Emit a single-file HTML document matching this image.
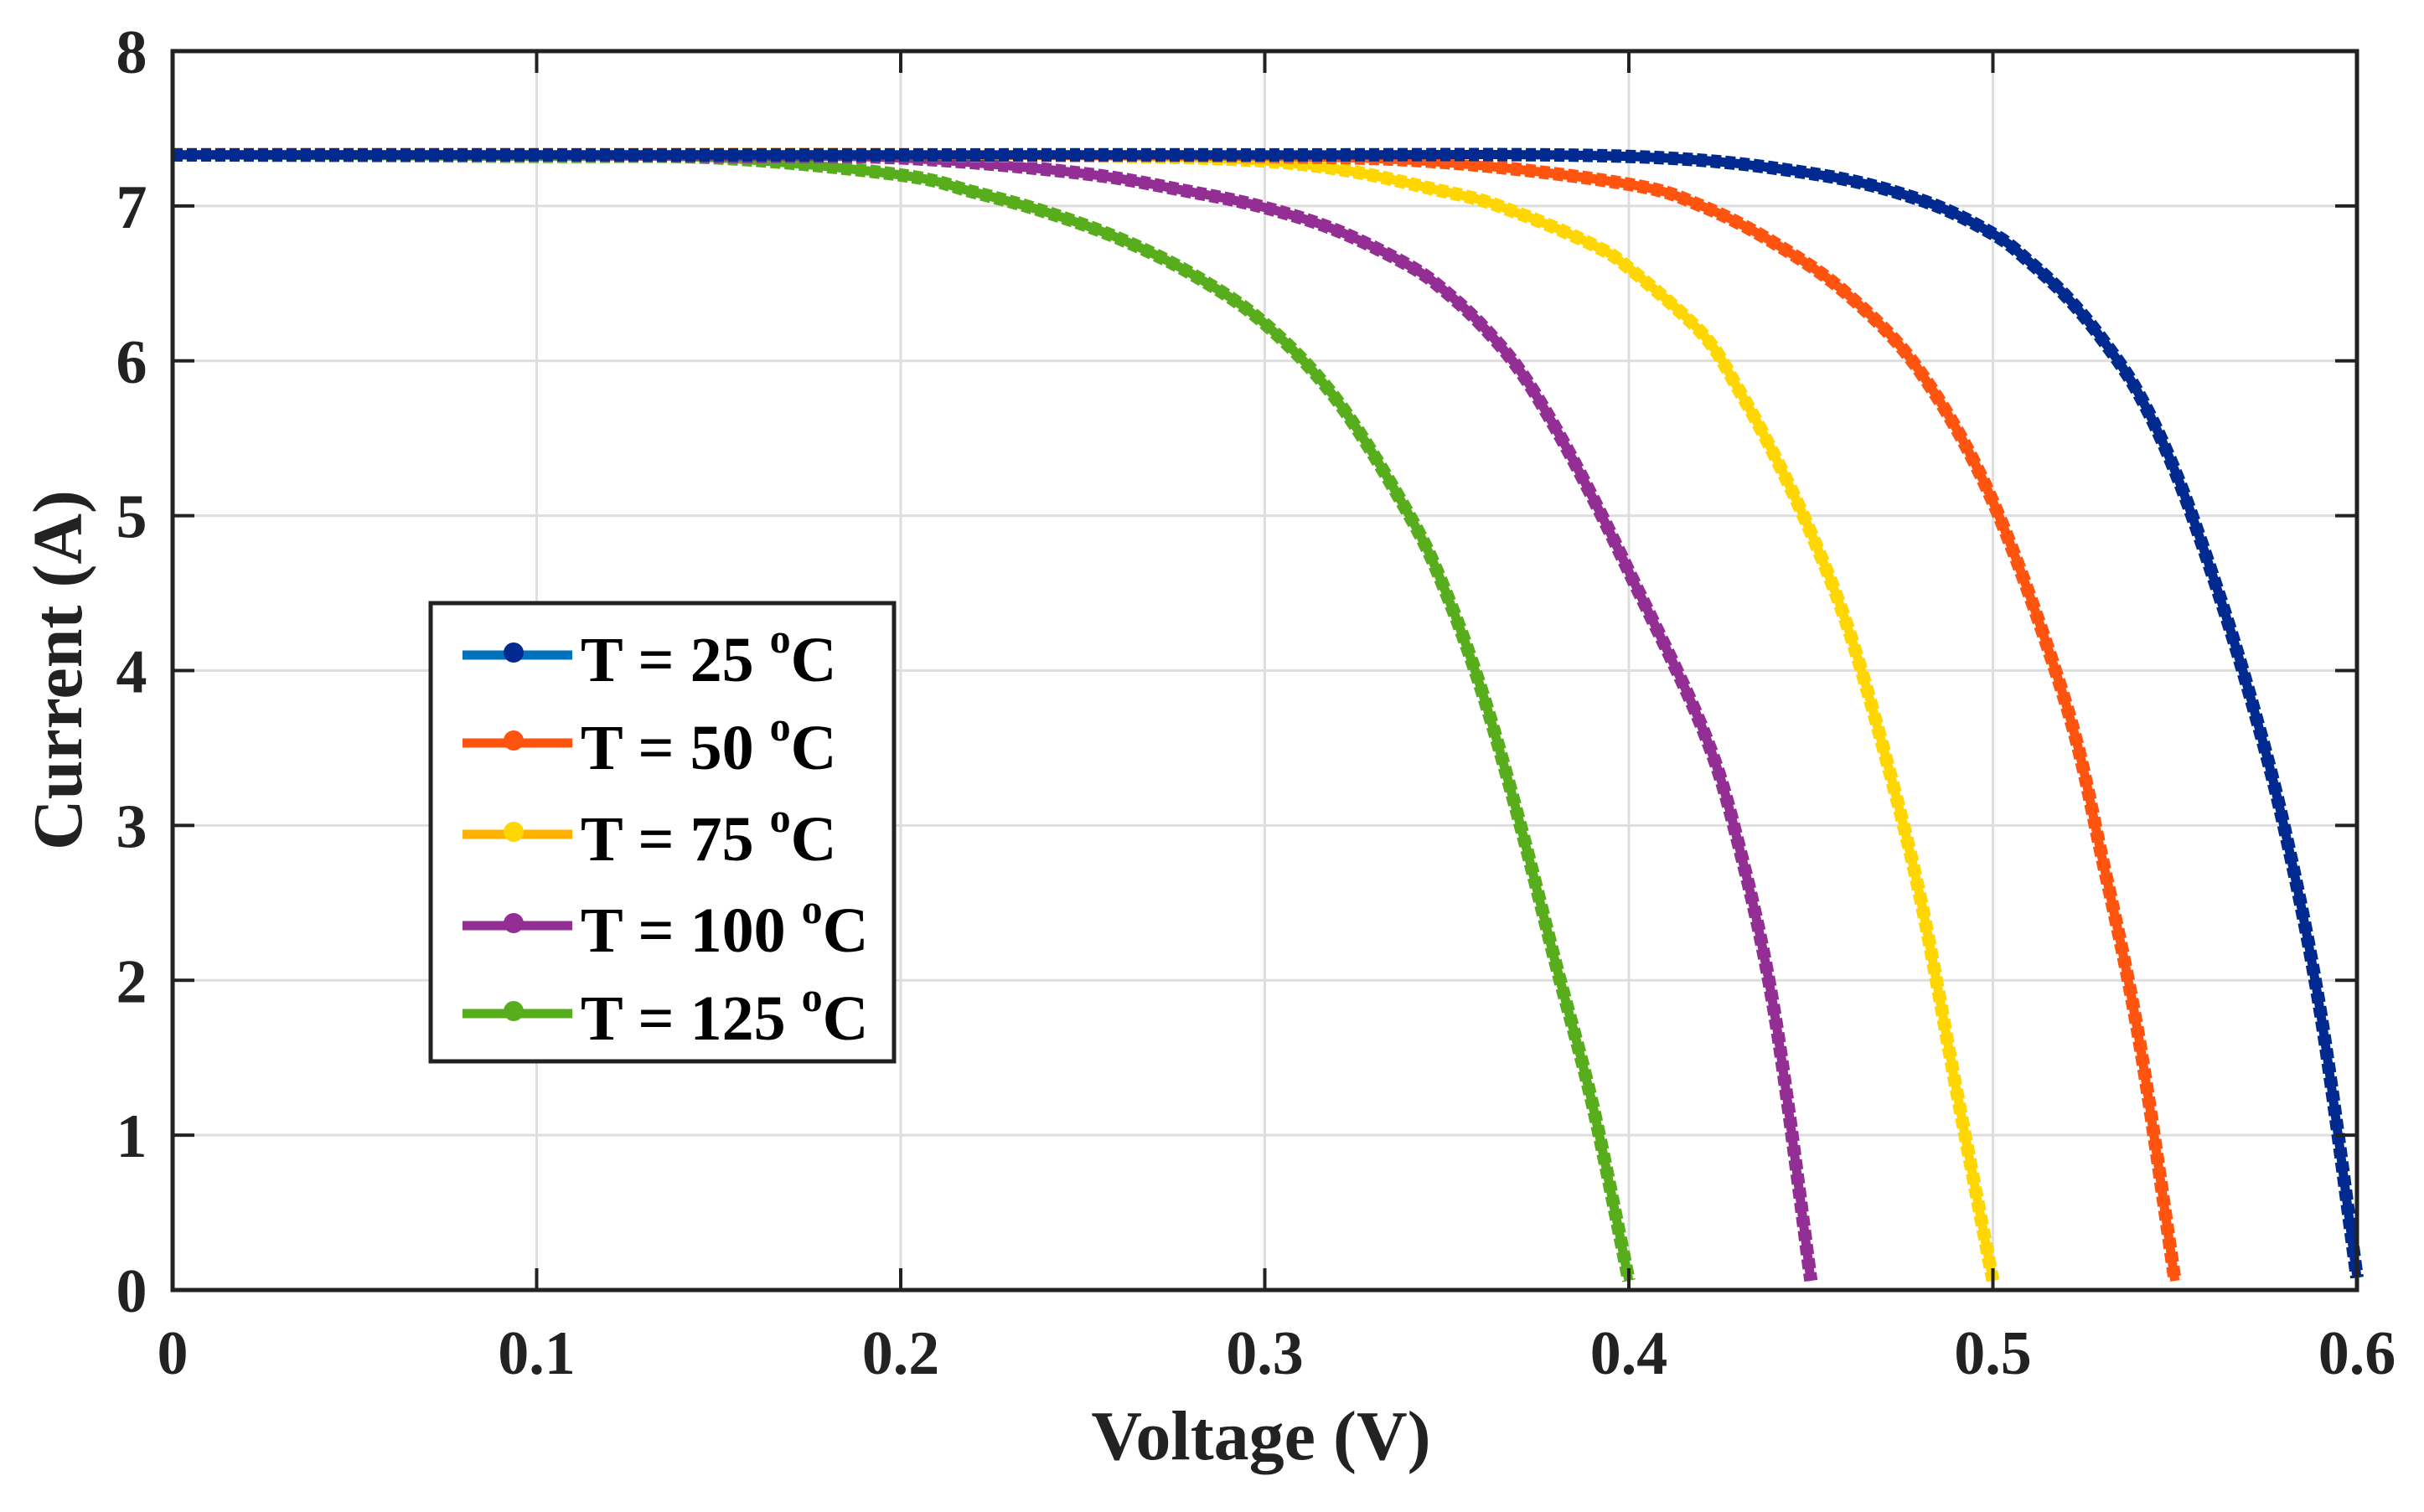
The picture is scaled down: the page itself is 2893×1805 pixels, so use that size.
<!DOCTYPE html>
<html><head><meta charset="utf-8"><style>
html,body{margin:0;padding:0;background:#fff;}
svg{display:block;font-family:"Liberation Serif",serif;font-weight:bold;}
</style></head><body>
<svg id="chart" width="2893" height="1805" viewBox="0 0 2893 1805" xmlns="http://www.w3.org/2000/svg">
<rect width="2893" height="1805" fill="#fff"/>
<g id="grid"></g><g id="curves"></g><g id="axes"></g><g id="legend"></g>
</svg>
<script>
const xTicks=[0,0.1,0.2,0.3,0.4,0.5,0.6];
const yTicks=[0,1,2,3,4,5,6,7,8];
const seriesNames=["T = 25","T = 50","T = 75","T = 100","T = 125"];
const v25=[0,0.1,0.2,0.3,0.4,0.45,0.48,0.5,0.51,0.52,0.53,0.54,0.55,0.56,0.57,0.58,0.59,0.6];
const i25=[7.33,7.33,7.33,7.33,7.32,7.21,7.04,6.82,6.64,6.42,6.14,5.79,5.29,4.64,3.89,2.99,1.79,0.08];
const v50=[0,0.1,0.2,0.3,0.35,0.4,0.42,0.44,0.46,0.48,0.5,0.52,0.53,0.54,0.55];
const i50=[7.33,7.33,7.33,7.32,7.28,7.14,7.0,6.76,6.43,5.93,5.09,3.79,2.79,1.64,0.06];
const v75=[0,0.1,0.2,0.3,0.35,0.37,0.39,0.4,0.42,0.43,0.44,0.45,0.46,0.47,0.48,0.49,0.5];
const i75=[7.33,7.33,7.33,7.29,7.09,6.95,6.75,6.6,6.18,5.82,5.39,4.89,4.29,3.49,2.54,1.29,0.06];
const v100=[0,0.1,0.15,0.2,0.25,0.28,0.3,0.32,0.34,0.35,0.36,0.37,0.38,0.39,0.4,0.42,0.43,0.44,0.45];
const i100=[7.33,7.33,7.32,7.31,7.21,7.09,6.99,6.84,6.61,6.44,6.22,5.94,5.56,5.12,4.64,3.64,2.89,1.79,0.06];
const v125=[0,0.1,0.15,0.2,0.22,0.24,0.26,0.28,0.3,0.32,0.34,0.35,0.36,0.37,0.38,0.39,0.4];
const i125=[7.33,7.32,7.31,7.2,7.09,6.96,6.79,6.56,6.24,5.74,4.99,4.49,3.84,3.02,2.1,1.2,0.06];
const lineColors=["#002a8f","#ff5410","#ffd600","#922e94","#57ad1c"];
const legendColors=["#0072bd","#ff5410","#ffb000","#922e94","#57ad1c"];

const NS="http://www.w3.org/2000/svg";
const L=206,R=2813,T=61,B=1540;
const X=v=>L+v/0.6*(R-L);
const Y=i=>B-i/8*(B-T);
function mk(tag,attrs,parent){const e=document.createElementNS(NS,tag);for(const k in attrs)e.setAttribute(k,attrs[k]);parent.appendChild(e);return e;}
const grid=document.getElementById('grid'),axes=document.getElementById('axes'),curves=document.getElementById('curves'),legend=document.getElementById('legend');
xTicks.forEach(t=>{
  const g=mk('line',{x1:X(t),x2:X(t),y1:T,y2:B,stroke:'#dedede','stroke-width':3},grid);
  
  
  mk('line',{x1:X(t),x2:X(t),y1:B,y2:B-26,stroke:'#222','stroke-width':4},axes);
  mk('line',{x1:X(t),x2:X(t),y1:T,y2:T+26,stroke:'#222','stroke-width':4},axes);
  const tx=mk('text',{x:X(t),y:1640,'text-anchor':'middle','font-size':74,fill:'#222'},axes);
  tx.textContent=String(t);
  
  
});
yTicks.forEach(t=>{
  const g=mk('line',{x1:L,x2:R,y1:Y(t),y2:Y(t),stroke:'#dedede','stroke-width':3},grid);
  
  
  mk('line',{x1:L,x2:L+26,y1:Y(t),y2:Y(t),stroke:'#222','stroke-width':4},axes);
  mk('line',{x1:R,x2:R-26,y1:Y(t),y2:Y(t),stroke:'#222','stroke-width':4},axes);
  const tx=mk('text',{x:157,y:Y(t)+26,'text-anchor':'middle','font-size':74,fill:'#222'},axes);
  tx.textContent=String(t);
  
  
});
const box=mk('rect',{x:L,y:T,width:R-L,height:B-T,fill:'none',stroke:'#222','stroke-width':5},axes);


const xt=mk('text',{x:1505,y:1742,'text-anchor':'middle','font-size':84,fill:'#222'},axes);
xt.textContent='Voltage (V)';


const yt=mk('text',{x:0,y:0,'text-anchor':'middle','font-size':84,fill:'#222',transform:'translate(97,800) rotate(-90)'},axes);
yt.textContent='Current (A)';



function smooth(pts){
  let d='M'+pts[0][0]+','+pts[0][1];
  for(let k=0;k<pts.length-1;k++){
    const p0=pts[k-1]||pts[k],p1=pts[k],p2=pts[k+1],p3=pts[k+2]||p2;
    const c1=[p1[0]+(p2[0]-p0[0])/6,p1[1]+(p2[1]-p0[1])/6];
    const c2=[p2[0]-(p3[0]-p1[0])/6,p2[1]-(p3[1]-p1[1])/6];
    d+=' C'+c1[0]+','+c1[1]+' '+c2[0]+','+c2[1]+' '+p2[0]+','+p2[1];
  }
  return d;
}
const VS=[v25,v50,v75,v100,v125],IS=[i25,i50,i75,i100,i125];
const slugs=['t25','t50','t75','t100','t125'];
[4,3,2,1,0].forEach(s=>{
  const pts=VS[s].map((v,k)=>[X(v),Y(IS[s][k])]);
  const p=mk('path',{d:smooth(pts),fill:'none',stroke:lineColors[s],'stroke-width':16,'stroke-linejoin':'round','stroke-dasharray':'12 5'},curves);
  
  
  const p2=mk('path',{d:smooth(pts),fill:'none',stroke:lineColors[s],'stroke-width':11,'stroke-linejoin':'round'},curves);
  
  
});
const lb=mk('rect',{x:514,y:720,width:553,height:547,fill:'#fff',stroke:'#222','stroke-width':5},legend);


const rowsY=[782,887,996,1105,1210];
seriesNames.forEach((n,s)=>{
  const g=mk('g',{},legend);
  
  
  mk('line',{x1:552,x2:683,y1:rowsY[s],y2:rowsY[s],stroke:legendColors[s],'stroke-width':11},g);
  mk('circle',{cx:613,cy:rowsY[s]-3,r:12,fill:lineColors[s]},g);
  const t=mk('text',{x:693,y:rowsY[s]+31,'font-size':76,fill:'#000'},g);
  t.textContent=n+' ';
  const sup=mk('tspan',{dy:-34,'font-size':50},t);sup.textContent='o';
  const c=mk('tspan',{dy:34},t);c.textContent='C';
});
</script>
</body></html>
